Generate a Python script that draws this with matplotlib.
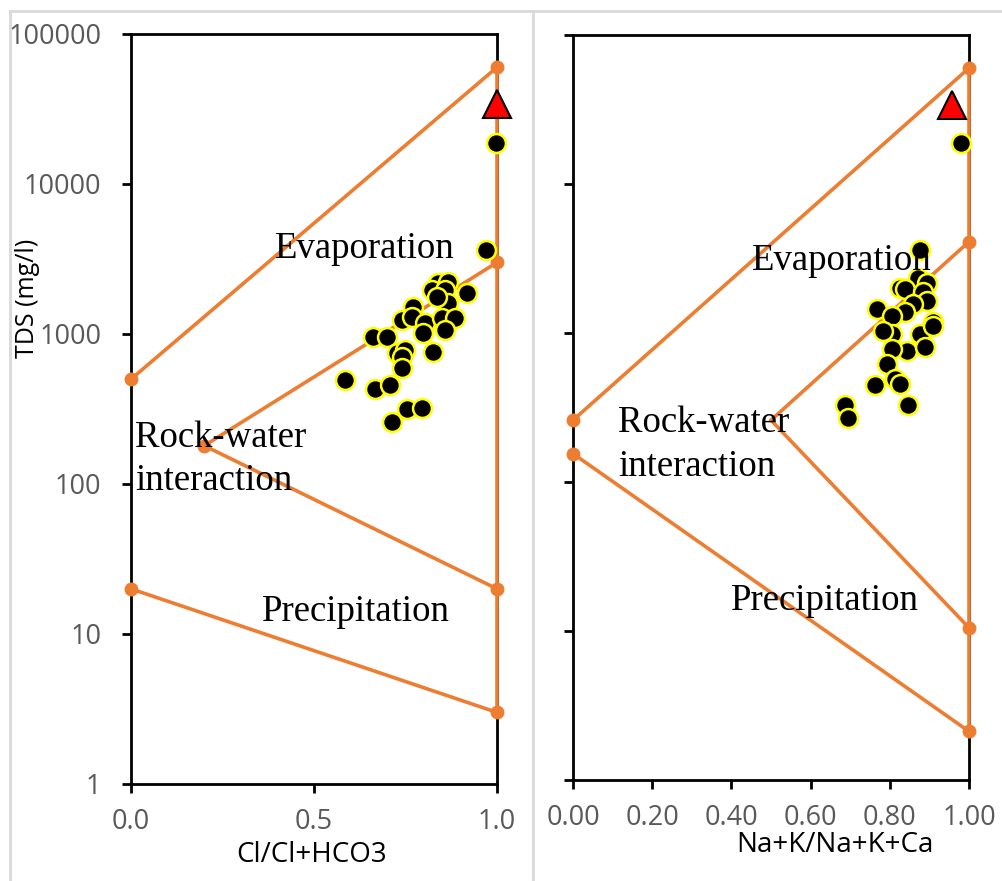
import matplotlib
matplotlib.use("Agg")
import matplotlib.pyplot as plt
from matplotlib.lines import Line2D
from matplotlib.ticker import FixedLocator, FixedFormatter, NullLocator

# ---------------- data ----------------
# Left panel: Cl/(Cl+HCO3) vs TDS
cl_ratio = [0.840, 0.867, 0.822, 0.858, 0.917, 0.867, 0.835, 0.771, 0.740, 0.767,
            0.803, 0.799, 0.849, 0.885, 0.858, 0.662, 0.699, 0.726, 0.749, 0.740,
            0.826, 0.740, 0.585, 0.667, 0.708, 0.753, 0.794, 0.712, 0.970, 0.997]
cl_tds = [2180, 2230, 1965, 1965, 1870, 1600, 1770, 1520, 1240, 1300,
          1180, 1010, 1270, 1270, 1060, 960, 960, 745, 780, 705,
          760, 590, 490, 428, 457, 315, 320, 260, 3630, 18800]

# Right panel: (Na+K)/(Na+K+Ca) vs TDS
na_ratio = [0.876, 0.872, 0.893, 0.826, 0.838, 0.885, 0.893, 0.859, 0.767, 0.838,
            0.805, 0.910, 0.805, 0.784, 0.876, 0.910, 0.843, 0.805, 0.889, 0.792,
            0.813, 0.826, 0.763, 0.687, 0.695, 0.847, 0.980]
na_tds = [3630, 2350, 2180, 2020, 1965, 1870, 1640, 1560, 1445, 1375,
          1300, 1180, 985, 1035, 985, 1120, 760, 780, 800, 620,
          495, 457, 445, 331, 267, 331, 18800]

# Seawater reference (triangle)
sea_left = (1.0, 34000)
sea_right = (0.957, 34000)

# Gibbs boundary polylines (x list, y list)
left_bounds = [
    ([0.0, 1.0], [500, 60000]),
    ([0.2, 1.0], [180, 3000]),
    ([0.2, 1.0], [180, 20]),
    ([0.0, 1.0], [20, 3]),
    ([1.0, 1.0], [3, 60000]),
]
left_nodes_x = [0.0, 1.0, 1.0, 0.2, 1.0, 0.0, 1.0]
left_nodes_y = [500, 60000, 3000, 180, 20, 20, 3]

right_bounds = [
    ([0.0, 1.0], [260, 60000]),
    ([0.5, 1.0], [260, 4100]),
    ([0.5, 1.0], [260, 10.5]),
    ([0.0, 1.0], [155, 2.12]),
    ([1.0, 1.0], [2.12, 60000]),
]
right_nodes_x = [0.0, 0.0, 1.0, 1.0, 1.0, 1.0]
right_nodes_y = [260, 155, 60000, 4100, 10.5, 2.12]

y_ticks = [1, 10, 100, 1000, 10000, 100000]
y_ticklabels = ["1", "10", "100", "1000", "10000", "100000"]
left_xticks = [0.0, 0.5, 1.0]
left_xticklabels = ["0.0", "0.5", "1.0"]
right_xticks = [0.0, 0.2, 0.4, 0.6, 0.8, 1.0]
right_xticklabels = ["0.00", "0.20", "0.40", "0.60", "0.80", "1.00"]

left_texts = [("Evaporation", 0.393, 3700), ("Rock-water\ninteraction", 0.011, 146),
              ("Precipitation", 0.358, 14.0)]
right_texts = [("Evaporation", 0.452, 3050), ("Rock-water\ninteraction", 0.114, 178),
               ("Precipitation", 0.399, 16.0)]

# ---------------- style ----------------
ORANGE = "#ED7D31"
GRAY_TXT = "#595959"
W, H = 1002, 881
fig = plt.figure(figsize=(W / 100, H / 100), dpi=100)

def frac_rect(x0, y0, x1, y1):
    return [x0 / W, 1 - y1 / H, (x1 - x0) / W, (y1 - y0) / H]

axL = fig.add_axes(frac_rect(131, 34, 497, 784))
axR = fig.add_axes(frac_rect(573, 35, 969, 780))

def style(ax, bounds, nx, ny, xs, ys, sea, xticks, xlabels, show_ylabels, texts):
    ax.set_yscale("log")
    ax.set_ylim(1, 100000)
    ax.set_xlim(0, 1)
    for bx, by in bounds:
        ax.plot(bx, by, color=ORANGE, lw=2.6, zorder=3, clip_on=False, solid_capstyle="round")
    ax.plot(nx, ny, "o", color=ORANGE, ms=9, zorder=3, clip_on=False)
    ax.scatter(xs, ys, s=185, c="black", edgecolors="#FFFF00", linewidths=1.8,
               zorder=4, clip_on=False)
    ax.plot([sea[0]], [sea[1]], marker="^", ms=20, color="#FF0000", mec="black",
            mew=1.5, zorder=5, clip_on=False)
    for sp in ax.spines.values():
        sp.set_linewidth(2.0)
        sp.set_color("black")
    ax.yaxis.set_major_locator(FixedLocator(y_ticks))
    ax.yaxis.set_minor_locator(NullLocator())
    if show_ylabels:
        ax.yaxis.set_major_formatter(FixedFormatter(y_ticklabels))
    else:
        ax.yaxis.set_major_formatter(FixedFormatter([""] * len(y_ticks)))
    ax.set_xticks(xticks)
    ax.set_xticklabels(xlabels)
    ax.tick_params(axis="both", direction="out", length=6.5, width=2.0, color="black",
                   labelcolor=GRAY_TXT, labelsize=19.5)
    ax.tick_params(axis="y", pad=15)
    ax.tick_params(axis="x", pad=11)
    for lab in ax.get_xticklabels() + ax.get_yticklabels():
        lab.set_fontfamily("Open Sans")
    for t, x, y in texts:
        ax.text(x, y, t, fontsize=26.5, family="Liberation Serif", ha="left",
                va="center", color="black", zorder=6, linespacing=1.35)

style(axL, left_bounds, left_nodes_x, left_nodes_y, cl_ratio, cl_tds, sea_left,
      left_xticks, left_xticklabels, True, left_texts)
style(axR, right_bounds, right_nodes_x, right_nodes_y, na_ratio, na_tds, sea_right,
      right_xticks, right_xticklabels, False, right_texts)

# axis titles
fig.text(28 / W, 1 - 298 / H, "TDS (mg/l)", rotation=90, ha="center", va="center",
         fontsize=18, family="Open Sans", color="black")
fig.text(312 / W, 1 - 855 / H, "Cl/Cl+HCO3", ha="center", va="center",
         fontsize=20, family="Open Sans", color="black")
fig.text(835 / W, 1 - 845 / H, "Na+K/Na+K+Ca", ha="center", va="center",
         fontsize=20, family="Open Sans", color="black")

# panel frames (light gray)
GL = "#D9D9D9"
fig.add_artist(Line2D([10 / W, 1], [1 - 11 / H, 1 - 11 / H], color=GL, lw=2))
fig.add_artist(Line2D([10 / W, 10 / W], [0, 1 - 11 / H], color=GL, lw=2))
fig.add_artist(Line2D([533 / W, 533 / W], [0, 1 - 11 / H], color=GL, lw=2))

fig.savefig("out.png", dpi=100, facecolor="white")
